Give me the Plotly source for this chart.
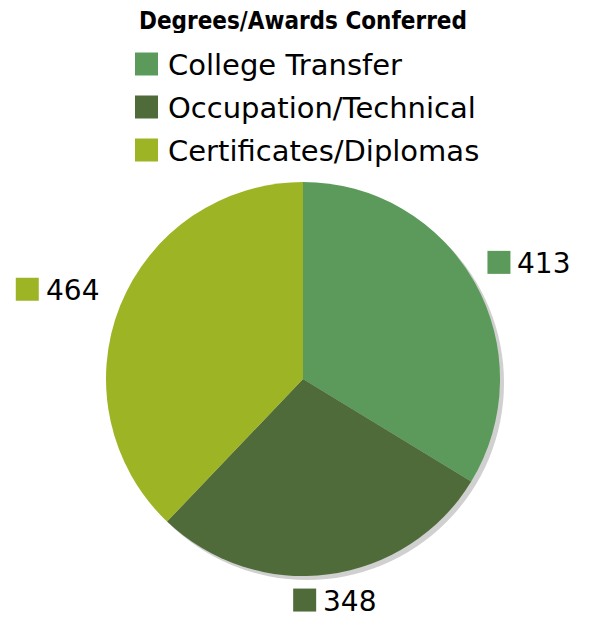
import math
import plotly.graph_objects as go

categories = ["College Transfer", "Occupation/Technical", "Certificates/Diplomas"]
values = [413, 348, 464]
colors = ["#5B9A5A", "#506B3A", "#9DB524"]
title_text = "Degrees/Awards Conferred"

W, H = 592, 620
OFF = 8  # page body margin
cx, cy, r = 303, 379, 197  # pixel center / radius of pie (window coords)

def px_x(x):
    return (x - OFF) / W

def px_y(y):
    return 1 - (y - OFF) / H

fig = go.Figure()

# soft shadow behind the pie
sh = 4
fig.add_trace(go.Pie(
    values=[1], labels=["shadow"], marker=dict(colors=["#d0d0d0"]),
    domain=dict(x=[px_x(cx - r + sh), px_x(cx + r + sh)], y=[px_y(cy + r + sh), px_y(cy - r + sh)]),
    textinfo="none", hoverinfo="skip", showlegend=False, sort=False,
))

fig.add_trace(go.Pie(
    labels=categories, values=values, sort=False, direction="clockwise", rotation=0,
    marker=dict(colors=colors, line=dict(width=0)),
    domain=dict(x=[px_x(cx - r), px_x(cx + r)], y=[px_y(cy + r), px_y(cy - r)]),
    textinfo="none", showlegend=False, hoverinfo="label+value",
))

annotations = [dict(
    text=f"<b>{title_text}</b>", x=px_x(303), y=px_y(21), xref="paper", yref="paper",
    showarrow=False, font=dict(family="DejaVu Sans Condensed", size=24, color="black"),
    xanchor="center", yanchor="middle", height=24, borderpad=0,
)]
shapes = []

# legend
row_y = [64, 107, 150]
for cat, col, yy in zip(categories, colors, row_y):
    shapes.append(dict(type="rect", xref="paper", yref="paper",
                       x0=px_x(135), x1=px_x(158), y0=px_y(yy - 11.5), y1=px_y(yy + 11.5),
                       fillcolor=col, line=dict(width=0)))
    annotations.append(dict(text=cat, x=px_x(166), y=px_y(yy + 1), xref="paper", yref="paper",
                            showarrow=False, xanchor="left", yanchor="middle",
                            font=dict(family="DejaVu Sans", size=29, color="black")))

# value labels outside the slices, placed along each slice's mid-angle (elliptical offset)
total = sum(values)
rx, ry, dy = 262, 228, 5
box_w, sq = 88, 23
start = 0.0
for v, col in zip(values, colors):
    frac = v / total
    mid = (start + frac / 2) * 2 * math.pi
    start += frac
    s, c = math.sin(mid), math.cos(mid)
    lx, ly = cx + s * rx, cy - c * ry - dy
    left = lx - box_w / 2
    shapes.append(dict(type="rect", xref="paper", yref="paper",
                       x0=px_x(left), x1=px_x(left + sq), y0=px_y(ly + sq / 2), y1=px_y(ly - sq / 2),
                       fillcolor=col, line=dict(width=0)))
    annotations.append(dict(text=str(v), x=px_x(left + sq + 6), y=px_y(ly + 1), xref="paper", yref="paper",
                            showarrow=False, xanchor="left", yanchor="middle", height=26, borderpad=0,
                            font=dict(family="DejaVu Sans", size=28, color="black")))

fig.update_layout(
    width=W, height=H, margin=dict(l=0, r=0, t=0, b=0),
    paper_bgcolor="white", plot_bgcolor="white",
    annotations=annotations, shapes=shapes, showlegend=False,
)

fig.write_html("out.html")
